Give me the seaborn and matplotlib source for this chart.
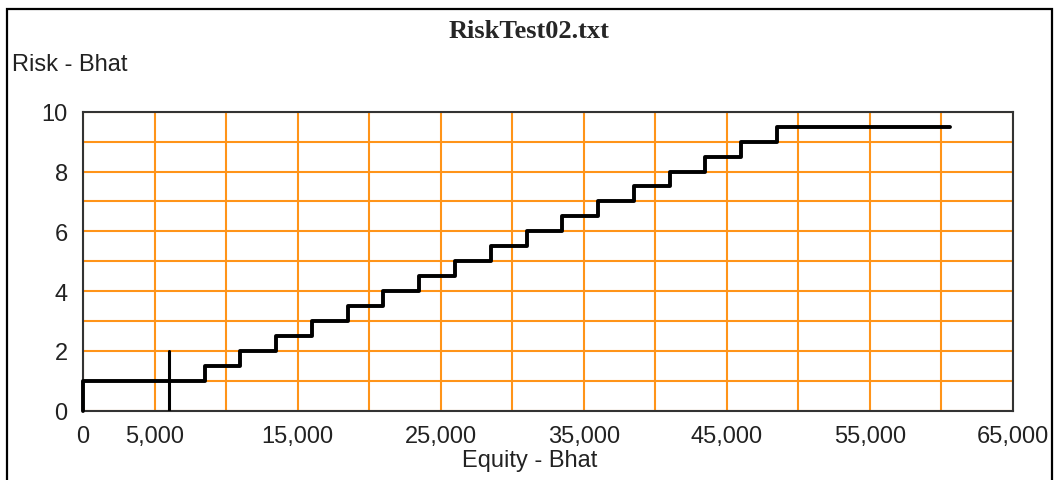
import matplotlib
matplotlib.use("Agg")
import matplotlib.pyplot as plt
import seaborn as sns
import pandas as pd
from matplotlib.patches import Rectangle

# risk schedule
equity = [0, 0, 8500, 11000, 13500, 16000, 18500, 21000, 23500, 26000,
          28500, 31000, 33500, 36000, 38500, 41000, 43500, 46000, 48500, 60600]
risk = [0, 1.0, 1.5, 2.0, 2.5, 3.0, 3.5, 4.0, 4.5, 5.0,
        5.5, 6.0, 6.5, 7.0, 7.5, 8.0, 8.5, 9.0, 9.5, 9.5]

# current equity marker
marker_equity = [6000, 6000]
marker_risk = [0, 2]

x_ticks = [0, 5000, 10000, 15000, 20000, 25000, 30000, 35000, 40000,
           45000, 50000, 55000, 60000, 65000]
x_labels = ["0", "5,000", "", "15,000", "", "25,000", "", "35,000", "",
            "45,000", "", "55,000", "", "65,000"]
y_ticks = [0, 1, 2, 3, 4, 5, 6, 7, 8, 9, 10]
y_labels = ["0", "", "2", "", "4", "", "6", "", "8", "", "10"]

sns.set_theme(style="white")
plt.rcParams['font.family'] = ['Liberation Sans', 'DejaVu Sans']

fig = plt.figure(figsize=(10.55, 4.81), dpi=100)
ax = fig.add_axes([83 / 1055, 1 - 411.7 / 481, 930 / 1055, 299 / 481])

df = pd.DataFrame({"Equity": equity, "Risk": risk})
sns.lineplot(data=df, x="Equity", y="Risk", estimator=None, sort=False,
             drawstyle="steps-post", color="black", linewidth=2.8,
             clip_on=False, ax=ax, zorder=5)
mk = pd.DataFrame({"Equity": marker_equity, "Risk": marker_risk})
sns.lineplot(data=mk, x="Equity", y="Risk", estimator=None, sort=False,
             color="black", linewidth=2.2, ax=ax, zorder=5)

ax.set_xlim(0, 65000)
ax.set_ylim(0, 10)
ax.set_xticks(x_ticks)
ax.set_xticklabels(x_labels)
ax.set_yticks(y_ticks)
ax.set_yticklabels(y_labels)
ax.tick_params(axis="both", length=0, labelsize=17, colors="#222222")
ax.tick_params(axis="x", pad=10)
ax.tick_params(axis="y", pad=11)
ax.grid(True, color="#FF9419", linewidth=1.5, zorder=1)
ax.set_axisbelow(True)
for s in ax.spines.values():
    s.set_color("#333333")
    s.set_linewidth(1.5)
    s.set_zorder(4)
ax.set_xlabel("")
ax.set_ylabel("")

fig.text(529 / 1055, 1 - 32 / 481, "RiskTest02.txt", ha="center", va="center",
         fontsize=19, fontweight="bold", family="Liberation Serif")
fig.text(12 / 1055, 1 - 65 / 481, "Risk - Bhat", ha="left", va="center",
         fontsize=17, color="#222222")
fig.text(530 / 1055, 1 - 461 / 481, "Equity - Bhat", ha="center", va="center",
         fontsize=17, color="#222222")

fig.patches.append(Rectangle((7 / 1055, -0.05), 1045 / 1055, 1.05 - 10 / 481,
                             transform=fig.transFigure, fill=False,
                             edgecolor="black", linewidth=1.6))

fig.savefig("out.png", dpi=100)
